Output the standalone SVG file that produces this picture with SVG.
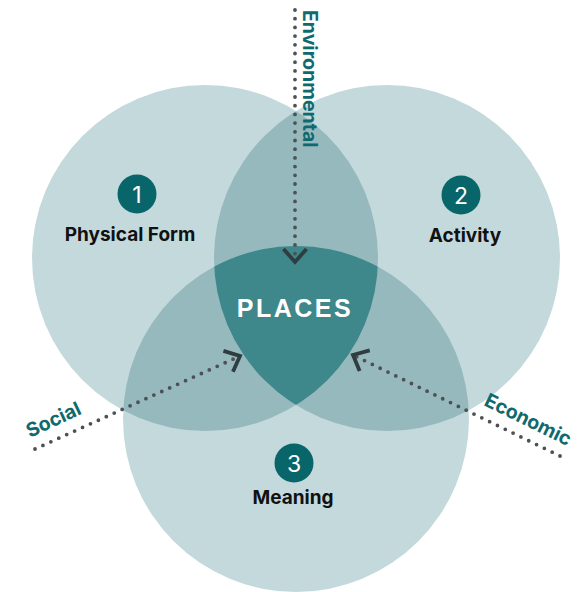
<svg xmlns="http://www.w3.org/2000/svg" width="584" height="592" viewBox="0 0 584 592">
<style>
.c{fill:#c4d9dc}
.lens{fill:#96b9be}
.core{fill:#3e878b}
.num{fill:#08656a}
.numt{font-family:Inter,"Liberation Sans",sans-serif;font-size:23px;fill:#fff;text-anchor:middle}
.lbl{font-family:Inter,"Liberation Sans",sans-serif;font-size:19px;font-weight:700;fill:#111;text-anchor:middle}
.side{font-family:Inter,"Liberation Sans",sans-serif;font-size:19.5px;font-weight:700;fill:#0f6a6e}
.dot{fill:none;stroke:#4b5154;stroke-width:3.8;stroke-linecap:round;stroke-dasharray:0 8.7;marker-end:url(#chev)}
</style>
<defs>
<clipPath id="cA"><circle cx="205" cy="258" r="173"/></clipPath>
<clipPath id="cB"><circle cx="387" cy="258" r="173"/></clipPath>
<clipPath id="cC"><circle cx="296" cy="419" r="173"/></clipPath>
<marker id="chev" markerUnits="userSpaceOnUse" orient="auto" viewBox="-18 -16 22 32" refX="0" refY="0" markerWidth="22" markerHeight="32" overflow="visible">
<path d="M-13,-11.5 L0,0 L-13,11.5" fill="none" stroke="#2f3d40" stroke-width="3.8"/>
</marker>
</defs>
<g id="circles">
<circle id="circle-physical" class="c" cx="205" cy="258" r="173"/>
<circle id="circle-activity" class="c" cx="387" cy="258" r="173"/>
<circle id="circle-meaning" class="c" cx="296" cy="419" r="173"/>
<circle class="lens" cx="387" cy="258" r="173" clip-path="url(#cA)"/>
<circle class="lens" cx="296" cy="419" r="173" clip-path="url(#cA)"/>
<circle class="lens" cx="296" cy="419" r="173" clip-path="url(#cB)"/>
<g clip-path="url(#cA)"><circle class="core" cx="296" cy="419" r="173" clip-path="url(#cB)"/></g>
</g>
<g id="node-physical-form">
<circle class="num" cx="137" cy="194" r="19.5"/>
<text class="numt" x="137" y="202.5">1</text>
<text class="lbl" x="130" y="241">Physical Form</text>
</g>
<g id="node-activity">
<circle class="num" cx="461" cy="195" r="19.5"/>
<text class="numt" x="461" y="203.5">2</text>
<text class="lbl" x="465" y="242">Activity</text>
</g>
<g id="node-meaning">
<circle class="num" cx="294" cy="463" r="19.5"/>
<text class="numt" x="294" y="471.5">3</text>
<text class="lbl" x="293" y="504">Meaning</text>
</g>
<g id="connectors">
<path class="dot" d="M295,10 L295,262"/>
<path class="dot" d="M35,449 L240,356"/>
<path class="dot" d="M560,456 L353,355"/>
</g>
<g id="labels">
<text class="side" transform="translate(303,10) rotate(90)">Environmental</text>
<text class="side" transform="translate(30,438) rotate(-25)">Social</text>
<text class="side" transform="translate(483,405) rotate(26)">Economic</text>
</g>
<g id="node-places">
<text x="295" y="317" font-family="'Liberation Sans',Arial,sans-serif" font-size="25" font-weight="700" letter-spacing="2.5" fill="#fff" text-anchor="middle">PLACES</text>
</g>
</svg>
